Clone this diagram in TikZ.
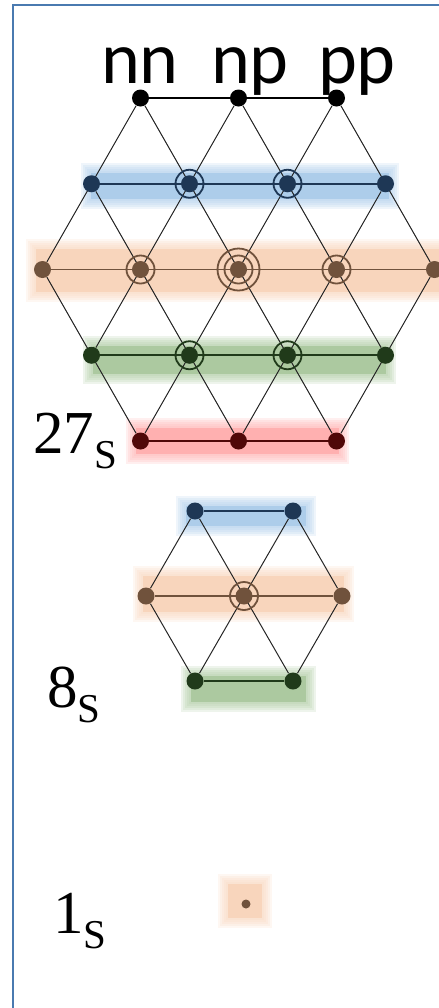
\documentclass[tikz,border=0pt]{standalone}
\usepackage{fontspec}
\setmainfont{Liberation Serif}
\newfontfamily\sitefont{Carlito}
\usetikzlibrary{positioning}
\definecolor{framecol}{RGB}{74,122,176}
\definecolor{bandblue}{RGB}{173,205,234}
\definecolor{bandorange}{RGB}{248,213,188}
\definecolor{bandgreen}{RGB}{172,201,160}
\definecolor{bandred}{RGB}{255,176,176}
\definecolor{sitenavy}{RGB}{30,55,85}
\definecolor{sitebrown}{RGB}{112,82,60}
\definecolor{sitegreen}{RGB}{32,58,26}
\definecolor{sitered}{RGB}{80,8,8}
\tikzstyle{site}=[circle,fill,inner sep=0pt,minimum size=8.5pt]
\tikzstyle{diag}=[draw=black!85,line width=0.5pt]
\tikzstyle{hline}=[line width=0.9pt]
\tikzstyle{ring}=[line width=0.9pt]
\tikzstyle{lbl}=[inner sep=0pt,anchor=base,font=\sitefont\fontsize{37}{37}\selectfont]
\tikzstyle{irrep}=[inner sep=0pt,anchor=base west]
\pgfdeclarelayer{bands}
\pgfdeclarelayer{edges}
\pgfsetlayers{bands,edges,main}
\newcommand{\hlband}[5]{%
  \foreach \g in {9,7,5,3,1}
    \fill[#1,opacity=.2] ({#2-\g},{#3-\g}) rectangle ({#4+\g},{#5+\g});
  \fill[#1] ({#2+1},{#3+1}) rectangle ({#4-1},{#5-1});}
\newcommand{\dimlabel}[1]{{\fontsize{30.5}{30.5}\selectfont #1}\raisebox{-7.5pt}{\fontsize{20.5}{20.5}\selectfont S}}

\begin{document}
\begin{tikzpicture}[x=0.5pt,y=-0.5pt]
    \useasboundingbox (0,0) rectangle (439,1008);
    \draw[framecol,line width=1pt] (13,1008) -- (13,5) -- (439,5);
    % highlighted rows
    \begin{pgfonlayer}{bands}
        \hlband{bandblue}{90}{172}{390}{200}
        \hlband{bandorange}{35}{248}{445}{293}
        \hlband{bandgreen}{92}{345}{387}{375}
        \hlband{bandred}{135}{427}{340}{455}
        \hlband{bandblue}{185}{505}{307}{527}
        \hlband{bandorange}{142}{575}{345}{613}
        \hlband{bandgreen}{190}{675}{307}{703}
        \hlband{bandorange}{227}{883}{263}{919}
    \end{pgfonlayer}
    % 27 multiplet
    \foreach \r/\col in {0/black,1/sitenavy,2/sitebrown,3/sitegreen,4/sitered} {
        \pgfmathtruncatemacro{\lo}{abs(\r-2)}
        \pgfmathtruncatemacro{\hi}{8-\lo}
        \pgfmathtruncatemacro{\nx}{\lo+2}
        \foreach \c in {\lo,\nx,...,\hi}
            \node[site,\col] (t-\r-\c) at ({238.5+(\c-4)*49},{98+85.75*\r}) {};
        \begin{pgfonlayer}{edges}
            \draw[hline,\col] (t-\r-\lo) -- (t-\r-\hi);
        \end{pgfonlayer}
    }
    \begin{pgfonlayer}{edges}
        \foreach \a/\b in {2-0/4-2,1-1/4-4,0-2/4-6,0-4/3-7,0-6/2-8,
                           0-2/2-0,0-4/3-1,0-6/4-2,1-7/4-4,2-8/4-6}
            \draw[diag] (t-\a) -- (t-\b);
    \end{pgfonlayer}
    \node[lbl] (nn) at (140,83) {nn};
    \node[lbl] (np) at (250,83) {np};
    \node[lbl] (pp) at (357,83) {pp};
    \node[irrep] (d27) at (33,453) {\dimlabel{27}};
    % 8 multiplet
    \foreach \r/\col in {0/sitenavy,1/sitebrown,2/sitegreen} {
        \pgfmathtruncatemacro{\lo}{abs(\r-1)}
        \pgfmathtruncatemacro{\hi}{4-\lo}
        \pgfmathtruncatemacro{\nx}{\lo+2}
        \foreach \c in {\lo,\nx,...,\hi}
            \node[site,\col] (o-\r-\c) at ({244+(\c-2)*49},{511+85*\r}) {};
        \begin{pgfonlayer}{edges}
            \draw[hline,\col] (o-\r-\lo) -- (o-\r-\hi);
        \end{pgfonlayer}
    }
    \begin{pgfonlayer}{edges}
        \foreach \a/\b in {1-0/2-1,0-1/2-3,0-3/1-4,0-1/1-0,0-3/2-1,1-4/2-3}
            \draw[diag] (o-\a) -- (o-\b);
    \end{pgfonlayer}
    \node[irrep] (d8) at (47,707) {\dimlabel{8}};
    % singlet
    \node[site,sitebrown,minimum size=4.5pt] (s-0-0) at (246,904) {};
    \node[irrep] (d1) at (53,933) {\dimlabel{1}};
    % degenerate sites
    \foreach \n/\col in {t-1-3/sitenavy,t-1-5/sitenavy,t-2-2/sitebrown,t-2-6/sitebrown,
                         t-3-3/sitegreen,t-3-5/sitegreen,o-1-2/sitebrown}
        \draw[ring,\col] (\n) circle (7pt);
    \draw[ring,sitebrown] (t-2-4) circle (7pt) (t-2-4) circle (10.5pt);
\end{tikzpicture}
\end{document}
